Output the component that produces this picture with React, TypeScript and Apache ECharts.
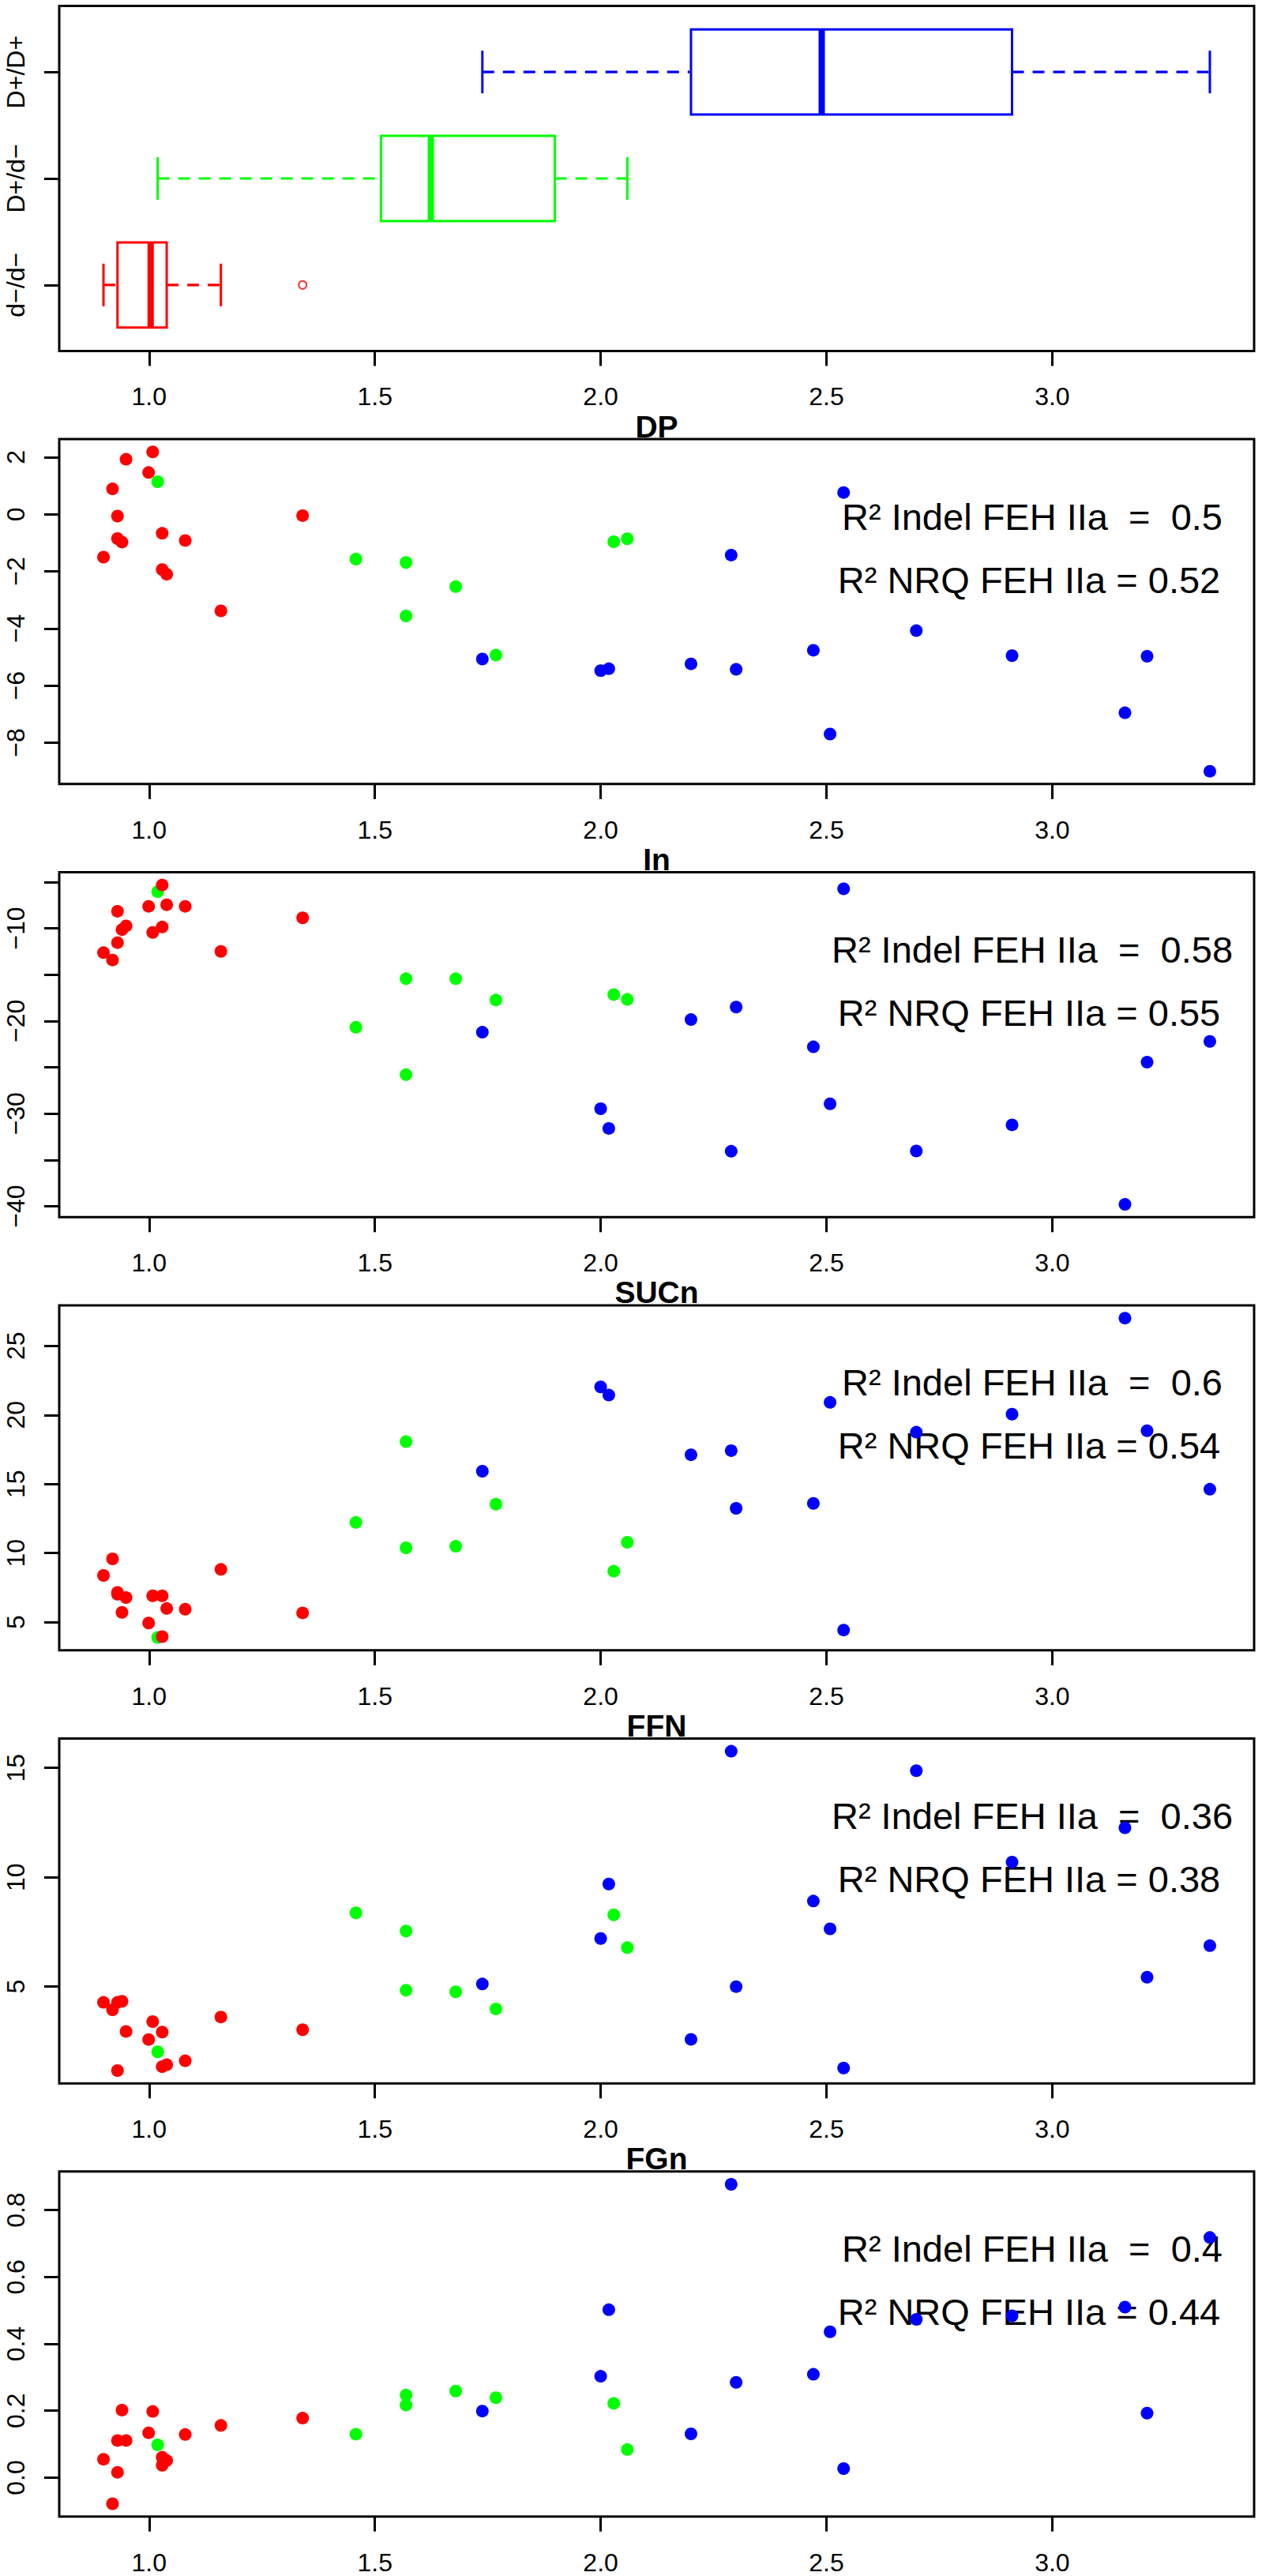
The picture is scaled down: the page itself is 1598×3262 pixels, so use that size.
import React, { useEffect, useRef } from "react";
import * as echarts from "echarts";

// ---------- data ----------
const groupLabels = ["d−/d−", "D+/d−", "D+/D+"];
const groupColors = ["#FF0000", "#00FF00", "#0000FF"];
const panelTitles = ["DP", "In", "SUCn", "FFN", "FGn"];
const r2Indel = ["0.5", "0.58", "0.6", "0.36", "0.4"];
const r2Nrq = ["0.52", "0.55", "0.54", "0.38", "0.44"];

// shared x values per group (d-/d- red, D+/d- green, D+/D+ blue)
const xRed = [0.899, 0.919, 0.930, 0.930, 0.940, 0.949, 0.999, 1.008, 1.029, 1.029, 1.039, 1.080, 1.159, 1.340];
const xGreen = [1.019, 1.458, 1.569, 1.569, 1.679, 1.768, 2.029, 2.059];
const xBlue = [1.738, 2.000, 2.018, 2.200, 2.289, 2.300, 2.471, 2.508, 2.538, 2.699, 2.911, 3.161, 3.210, 3.349];

// DP
const dpRed = [-1.50, 0.889, -0.064, -0.852, -0.972, 1.926, 1.463, 2.185, -0.667, -1.935, -2.10, -0.917, -3.38, -0.047];
const dpGreen = [1.139, -1.571, -1.686, -3.562, -2.533, -4.933, -0.962, -0.857];
const dpBlue = [-5.067, -5.476, -5.41, -5.238, -1.429, -5.43, -4.762, -7.695, 0.762, -4.076, -4.952, -6.952, -4.971, -9.0];
// In
const inRed = [-12.63, -13.42, -8.16, -11.55, -10.14, -9.74, -7.63, -10.45, -5.33, -9.86, -7.46, -7.63, -12.49, -8.87];
const inGreen = [-6.05, -20.68, -15.44, -25.79, -15.44, -17.74, -17.15, -17.68];
const inBlue = [-21.21, -29.47, -31.59, -19.85, -34.06, -18.5, -22.79, -28.94, -5.74, -34.03, -31.21, -39.79, -24.44, -22.21];
// SUCn
const sucnRed = [8.38, 9.58, 7.15, 7.02, 5.71, 6.78, 4.94, 6.91, 6.91, 3.95, 5.99, 5.94, 8.82, 5.67];
const sucnGreen = [3.89, 12.22, 18.07, 10.38, 10.49, 13.54, 8.69, 10.78];
const sucnBlue = [15.93, 22.03, 21.44, 17.12, 17.42, 13.24, 13.6, 20.91, 4.43, 18.75, 20.06, 27.01, 18.86, 14.62];
// FFN
const ffnRed = [4.28, 3.94, 4.28, 1.16, 4.33, 2.95, 2.58, 3.40, 2.92, 1.34, 1.43, 1.61, 3.61, 3.03];
const ffnGreen = [2.02, 8.37, 7.54, 4.83, 4.76, 3.98, 8.28, 6.78];
const ffnBlue = [5.12, 7.20, 9.69, 2.59, 15.76, 5.0, 8.91, 7.64, 1.28, 14.87, 10.69, 12.26, 5.43, 6.87];
// FGn
const fgnRed = [0.055, -0.078, 0.016, 0.111, 0.202, 0.111, 0.134, 0.198, 0.061, 0.037, 0.051, 0.129, 0.156, 0.178];
const fgnGreen = [0.098, 0.130, 0.247, 0.217, 0.259, 0.239, 0.222, 0.084];
const fgnBlue = [0.199, 0.303, 0.502, 0.131, 0.877, 0.285, 0.309, 0.436, 0.027, 0.473, 0.484, 0.510, 0.193, 0.718];

// ticks
const xTicks = [1.0, 1.5, 2.0, 2.5, 3.0];
const groupTicks = [1, 2, 3];
const dpTicks = [-8, -6, -4, -2, 0, 2];
const inTicks = [-40, -35, -30, -25, -20, -15, -10, -5];
const inLabels = [-40, -30, -20, -10];
const sucnTicks = [5, 10, 15, 20, 25];
const ffnTicks = [5, 10, 15];
const fgnTicks = [0, 0.2, 0.4, 0.6, 0.8];

// ---------- helpers ----------
const FONT = '"Liberation Sans", Arial, Helvetica, sans-serif';

function padded(vals: number[]): [number, number] {
  const mn = Math.min(...vals);
  const mx = Math.max(...vals);
  const p = (mx - mn) * 0.04;
  return [mn - p, mx + p];
}

function fivenum(v: number[]) {
  const x = [...v].sort((a, b) => a - b);
  const n = x.length;
  const n4 = Math.floor((n + 3) / 2) / 2;
  const d = [1, n4, (n + 1) / 2, n + 1 - n4, n];
  return d.map((di) => 0.5 * (x[Math.floor(di) - 1] + x[Math.ceil(di) - 1]));
}

function boxStats(v: number[]) {
  const f = fivenum(v);
  const q1 = f[1], med = f[2], q3 = f[3];
  const iqr = q3 - q1;
  const loLim = q1 - 1.5 * iqr;
  const hiLim = q3 + 1.5 * iqr;
  const inside = v.filter((t) => t >= loLim && t <= hiLim);
  return {
    q1, med, q3,
    lo: Math.min(...inside),
    hi: Math.max(...inside),
    out: v.filter((t) => t < loLim || t > hiLim),
  };
}

const minus = (s: string) => s.replace(/-/g, "\u2212");

const GRID_L = 75;
const GRID_W = 1513;
const GRID_H = 436.8;
const gridTop = (k: number) => 7.6 + 548.45 * k;

function buildOption() {
  const xAll = [...xRed, ...xGreen, ...xBlue];
  const [xMin, xMax] = padded(xAll);

  const panels = [
    { red: dpRed, green: dpGreen, blue: dpBlue, ticks: dpTicks, labels: dpTicks, fmt: (v: number) => minus(String(v)) },
    { red: inRed, green: inGreen, blue: inBlue, ticks: inTicks, labels: inLabels, fmt: (v: number) => minus(String(v)) },
    { red: sucnRed, green: sucnGreen, blue: sucnBlue, ticks: sucnTicks, labels: sucnTicks, fmt: (v: number) => String(v) },
    { red: ffnRed, green: ffnGreen, blue: ffnBlue, ticks: ffnTicks, labels: ffnTicks, fmt: (v: number) => String(v) },
    { red: fgnRed, green: fgnGreen, blue: fgnBlue, ticks: fgnTicks, labels: fgnTicks, fmt: (v: number) => v.toFixed(1) },
  ];

  const grids: any[] = [];
  const xAxes: any[] = [];
  const yAxes: any[] = [];
  const series: any[] = [];
  const graphics: any[] = [];

  const tickStyle = { color: "#000", width: 3 };
  const labelBase = { fontSize: 32, fontFamily: FONT, color: "#000" };

  for (let k = 0; k < 6; k++) {
    grids.push({
      left: GRID_L, top: gridTop(k), width: GRID_W, height: GRID_H,
      show: true, borderColor: "#000", borderWidth: 3, backgroundColor: "transparent",
      containLabel: false, outerBoundsMode: "none",
    });
    xAxes.push({
      type: "value", gridIndex: k, min: xMin, max: xMax, position: "bottom",
      axisLine: { show: false, onZero: false }, splitLine: { show: false },
      axisTick: { show: true, length: 19, inside: false, lineStyle: tickStyle, customValues: xTicks },
      axisLabel: { ...labelBase, margin: 58, verticalAlign: "middle", lineHeight: 28,
        customValues: xTicks, formatter: (v: number) => v.toFixed(1) },
    });
  }

  // boxplot panel axes
  yAxes.push({
    type: "value", gridIndex: 0, min: 0.38, max: 3.62, position: "left",
    axisLine: { show: false, onZero: false }, splitLine: { show: false },
    axisTick: { show: true, length: 19, lineStyle: tickStyle, customValues: groupTicks },
    axisLabel: { ...labelBase, rotate: 90, margin: 39, customValues: groupTicks,
      formatter: (v: number) => groupLabels[Math.round(v) - 1] ?? "" },
  });

  panels.forEach((p, i) => {
    const [yMin, yMax] = padded([...p.red, ...p.green, ...p.blue]);
    yAxes.push({
      type: "value", gridIndex: i + 1, min: yMin, max: yMax, position: "left",
      axisLine: { show: false, onZero: false }, splitLine: { show: false },
      axisTick: { show: true, length: 19, lineStyle: tickStyle, customValues: p.ticks },
      axisLabel: { ...labelBase, rotate: 90, margin: 39, customValues: p.labels, formatter: p.fmt },
    });
  });

  // boxplot
  const groups = [xRed, xGreen, xBlue];
  const stats = groups.map(boxStats);
  series.push({
    type: "custom",
    coordinateSystem: "cartesian2d",
    xAxisIndex: 0, yAxisIndex: 0,
    data: stats.map((s, i) => [i, s.q1, s.med, s.q3, s.lo, s.hi]),
    encode: { x: [1, 2, 3, 4, 5], y: 0 },
    z: 3,
    renderItem: (params: any, api: any) => {
      const i = api.value(0);
      const q1 = api.value(1), med = api.value(2), q3 = api.value(3), lo = api.value(4), hi = api.value(5);
      const pos = i + 1;
      const color = groupColors[i];
      const a = api.coord([q1, pos + 0.4]);
      const b = api.coord([q3, pos - 0.4]);
      const m1 = api.coord([med, pos + 0.4]);
      const m2 = api.coord([med, pos - 0.4]);
      const l = api.coord([lo, pos]);
      const h = api.coord([hi, pos]);
      const c1 = api.coord([q1, pos]);
      const c3 = api.coord([q3, pos]);
      const sl1 = api.coord([lo, pos + 0.2]);
      const sl2 = api.coord([lo, pos - 0.2]);
      const sh1 = api.coord([hi, pos + 0.2]);
      const sh2 = api.coord([hi, pos - 0.2]);
      const dashed = { stroke: color, lineWidth: 3.2, lineDash: [15, 11], fill: null };
      const solid = { stroke: color, lineWidth: 3, fill: null };
      return {
        type: "group",
        children: [
          { type: "line", shape: { x1: l[0], y1: l[1], x2: c1[0], y2: c1[1] }, style: dashed },
          { type: "line", shape: { x1: c3[0], y1: c3[1], x2: h[0], y2: h[1] }, style: dashed },
          { type: "line", shape: { x1: sl1[0], y1: sl1[1], x2: sl2[0], y2: sl2[1] }, style: solid },
          { type: "line", shape: { x1: sh1[0], y1: sh1[1], x2: sh2[0], y2: sh2[1] }, style: solid },
          { type: "rect", shape: { x: a[0], y: a[1], width: b[0] - a[0], height: b[1] - a[1] },
            style: { stroke: color, lineWidth: 3, fill: "none" } },
          { type: "line", shape: { x1: m1[0], y1: m1[1], x2: m2[0], y2: m2[1] },
            style: { stroke: color, lineWidth: 8, fill: null } },
        ],
      };
    },
  });
  stats.forEach((s, i) => {
    series.push({
      type: "scatter", xAxisIndex: 0, yAxisIndex: 0,
      symbol: "emptyCircle", symbolSize: 10,
      itemStyle: { color: groupColors[i], borderColor: groupColors[i], borderWidth: 2.5 },
      data: s.out.map((v) => [v, i + 1]),
      z: 3,
    });
  });

  // scatter panels (draw blue, then green, then red)
  panels.forEach((p, i) => {
    const order: [number[], number[], string][] = [
      [xBlue, p.blue, groupColors[2]],
      [xGreen, p.green, groupColors[1]],
      [xRed, p.red, groupColors[0]],
    ];
    order.forEach(([xs, ys, col]) => {
      series.push({
        type: "scatter", xAxisIndex: i + 1, yAxisIndex: i + 1,
        symbol: "circle", symbolSize: 16,
        itemStyle: { color: col, opacity: 1 },
        data: xs.map((x, j) => [x, ys[j]]),
        z: 3,
      });
    });

    const top = gridTop(i + 1);
    graphics.push({
      type: "text", x: GRID_L + GRID_W / 2, y: top - 16, z: 1,
      style: { text: panelTitles[i], font: `bold 39px ${FONT}`, fill: "#000", textAlign: "center", textVerticalAlign: "middle" },
    });
    graphics.push({
      type: "text", x: 1307, y: top + 98, z: 1,
      style: { text: `R² Indel FEH IIa  =  ${r2Indel[i]}`, font: `47px ${FONT}`, fill: "#000", textAlign: "center", textVerticalAlign: "middle" },
    });
    graphics.push({
      type: "text", x: 1303, y: top + 178, z: 1,
      style: { text: `R² NRQ FEH IIa = ${r2Nrq[i]}`, font: `47px ${FONT}`, fill: "#000", textAlign: "center", textVerticalAlign: "middle" },
    });
  });

  return {
    animation: false,
    backgroundColor: "#FFFFFF",
    grid: grids,
    xAxis: xAxes,
    yAxis: yAxes,
    series,
    graphic: { elements: graphics },
  };
}

export default function App() {
  const ref = useRef<HTMLDivElement>(null);
  useEffect(() => {
    document.body.style.margin = "0";
    if (!ref.current) return;
    const chart = echarts.init(ref.current, null, { renderer: "svg", width: 1598, height: 3262 });
    chart.setOption(buildOption() as any);
    return () => chart.dispose();
  }, []);
  return <div ref={ref} style={{ width: 1598, height: 3262, background: "#fff" }} />;
}
